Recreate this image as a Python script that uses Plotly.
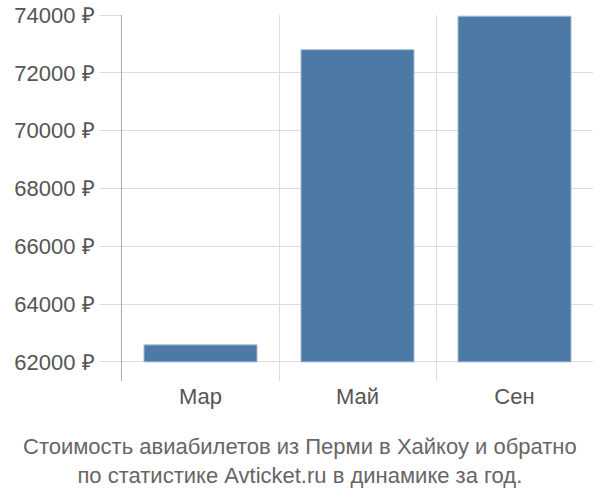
import plotly.graph_objects as go

months = ["Мар", "Май", "Сен"]
prices = [62590, 72800, 73960]
y_ticks = [62000, 64000, 66000, 68000, 70000, 72000, 74000]
y_labels = ["62000 ₽", "64000 ₽", "66000 ₽", "68000 ₽", "70000 ₽", "72000 ₽", "74000 ₽"]
base_price = 62000

title_text = ("Стоимость авиабилетов из Перми в Хайкоу и обратно<br>"
              "по статистике Avticket.ru в динамике за год.")

fig = go.Figure()
fig.add_trace(go.Bar(
    x=months,
    y=[p - base_price for p in prices],
    base=base_price,
    width=0.72,
    marker=dict(color="#4d79a6", line=dict(color="#a9bfd6", width=1)),
    hoverinfo="skip",
))

fig.update_layout(
    width=600, height=500,
    margin=dict(l=122, r=7, t=15, b=119),
    paper_bgcolor="white", plot_bgcolor="white",
    font=dict(family="Liberation Sans, Arial, sans-serif", size=22, color="#555"),
    showlegend=False,
)
fig.update_xaxes(
    type="category",
    tickson="boundaries",
    showgrid=True, gridcolor="#dddddd", gridwidth=1,
    ticks="", showline=False, zeroline=False,
    automargin=False,
    tickfont=dict(size=22, color="#555"),
)
fig.update_yaxes(
    range=[61340, 74000],
    tickvals=y_ticks, ticktext=y_labels,
    showgrid=True, gridcolor="#dddddd", gridwidth=1,
    ticks="outside", ticklen=22, tickcolor="#dddddd",
    showline=True, linecolor="#aaaaaa", linewidth=1,
    zeroline=False, automargin=False,
    tickfont=dict(size=22, color="#555"),
)

# caption under the chart, centred on the page
fig.add_annotation(
    text=title_text, xref="paper", yref="paper",
    x=(300 - 122) / (600 - 122 - 7), xanchor="center",
    y=-0.14, yanchor="top",
    showarrow=False, align="center",
    font=dict(size=22, color="#666"),
)

# drop the default page margin so the 600x500 figure fills the window
fig.write_html("out.html",
               config={"displayModeBar": False},
               post_script="document.body.style.margin='0';document.body.style.overflow='hidden';")
